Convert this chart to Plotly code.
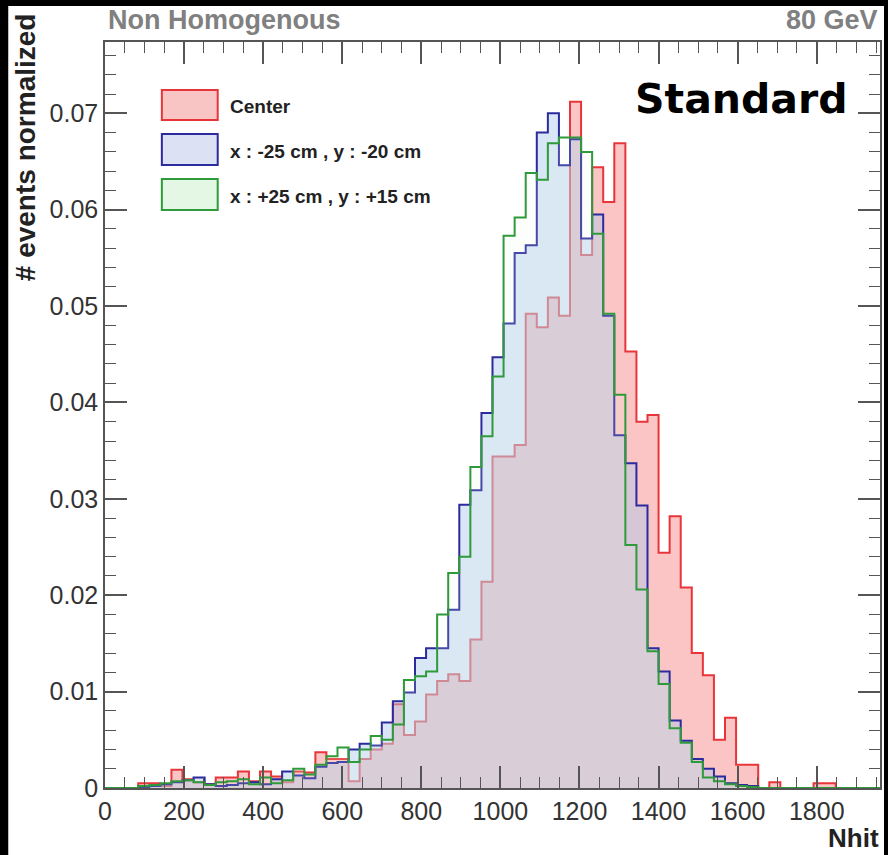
import numpy as np
import plotly.graph_objects as go

# ---------------- data (70 bins, 0 .. 1960, width 28) ----------------
NBINS = 70
XMIN, XMAX = 0, 1960

center = [0, 0, 0, 0.0005, 0.0005, 0.0002, 0.0019, 0.0009, 0.0006, 0.0004,
          0.0011, 0.0011, 0.0017, 0.0007, 0.0017, 0.0012, 0.0006, 0.0017, 0.0016, 0.0037,
          0.0030, 0.0030, 0.0007, 0.0030, 0.0040, 0.0046, 0.0087, 0.0055, 0.0069, 0.0097,
          0.0111, 0.0118, 0.0111, 0.0154, 0.0214, 0.0344, 0.0344, 0.0356, 0.0492, 0.0478,
          0.0509, 0.0490, 0.0712, 0.0553, 0.0644, 0.0608, 0.0669, 0.0453, 0.0380, 0.0387,
          0.0244, 0.0282, 0.0208, 0.0140, 0.0117, 0.0050, 0.0073, 0.0024, 0.0024, 0,
          0.0006, 0, 0, 0, 0.0005, 0.0005, 0, 0, 0, 0]

minus = [0, 0, 0, 0.0001, 0.0002, 0.0004, 0.0006, 0.0008, 0.0011, 0.0004,
         0.0002, 0.0003, 0.0005, 0.0006, 0.0004, 0.0009, 0.0017, 0.0013, 0.0010, 0.0022,
         0.0026, 0.0027, 0.0040, 0.0046, 0.0044, 0.0068, 0.0090, 0.0099, 0.0135, 0.0145,
         0.0145, 0.0185, 0.0294, 0.0309, 0.0389, 0.0447, 0.0482, 0.0555, 0.0563, 0.0680,
         0.0700, 0.0646, 0.0673, 0.0570, 0.0595, 0.0490, 0.0366, 0.0337, 0.0293, 0.0145,
         0.0121, 0.0070, 0.0049, 0.0030, 0.0020, 0.0012, 0.0005, 0.0003, 0.0002, 0,
         0, 0, 0, 0, 0, 0, 0, 0, 0, 0]

plus = [0, 0, 0, 0.0002, 0.0003, 0.0005, 0.0007, 0.0008, 0.0006, 0.0003,
        0.0006, 0.0007, 0.0009, 0.0004, 0.0011, 0.0005, 0.0008, 0.0020, 0.0014, 0.0024,
        0.0033, 0.0042, 0.0027, 0.0040, 0.0054, 0.0050, 0.0066, 0.0112, 0.0116, 0.0121,
        0.0180, 0.0223, 0.0240, 0.0333, 0.0365, 0.0427, 0.0573, 0.0592, 0.0638, 0.0631,
        0.0669, 0.0675, 0.0675, 0.0660, 0.0575, 0.0492, 0.0408, 0.0252, 0.0206, 0.0142,
        0.0108, 0.0062, 0.0047, 0.0027, 0.0011, 0.0007, 0.0004, 0.0002, 0.0001, 0,
        0, 0, 0, 0, 0, 0, 0, 0, 0, 0]

labels = ["Center", "x : -25 cm , y : -20 cm", "x : +25 cm , y : +15 cm"]
x_ticks = [0, 200, 400, 600, 800, 1000, 1200, 1400, 1600, 1800]
y_ticks = [0, 0.01, 0.02, 0.03, 0.04, 0.05, 0.06, 0.07]
y_ticktext = ["0", "0.01", "0.02", "0.03", "0.04", "0.05", "0.06", "0.07"]

edges = np.linspace(XMIN, XMAX, NBINS + 1)

line_cols = ["#e8353a", "#2b2b9e", "#2f9a3a"]
fill_cols = ["rgba(247,140,140,0.50)", "rgba(170,200,235,0.45)", "rgba(225,245,225,0.15)"]

fig = go.Figure()
for vals, lc, fc, name in zip([center, minus, plus], line_cols, fill_cols, labels):
    yv = list(vals) + [vals[-1]]
    fig.add_trace(go.Scatter(
        x=edges, y=yv, mode="lines", line=dict(color=lc, width=2, shape="hv"),
        fill="tozeroy", fillcolor=fc, name=name, showlegend=False, hoverinfo="skip"))

# ---------------- layout ----------------
W_FIG, H_FIG = 888, 855
L, T, R, B = 105, 42, 6, 67
PW, PH = W_FIG - L - R, H_FIG - T - B


def pxx(x):
    return (x - L) / PW


def pxy(y):
    return (T + PH - y) / PH


FONT = "Liberation Sans, Arial, sans-serif"

axis_common = dict(
    showline=True, linecolor="#555555", linewidth=1.5, mirror="ticks",
    ticks="inside", tickcolor="#555555", tickwidth=1.5, ticklen=22,
    showgrid=False, zeroline=False,
    tickfont=dict(family=FONT, size=25, color="#333333"),
)

fig.update_xaxes(range=[XMIN, XMAX], tickvals=x_ticks,
                 minor=dict(dtick=50, ticklen=11, tickcolor="#555555", ticks="inside", tickwidth=1.2),
                 **axis_common)
fig.update_yaxes(range=[0, 0.0774], tickvals=y_ticks, ticktext=y_ticktext,
                 minor=dict(dtick=0.002, ticklen=11, tickcolor="#555555", ticks="inside", tickwidth=1.2),
                 **axis_common)

shapes = [dict(type="rect", xref="paper", yref="paper", layer="below",
               x0=pxx(8), x1=pxx(886), y0=pxy(855), y1=pxy(6),
               fillcolor="white", line=dict(width=0))]

sw_fill = ["#f9c4c4", "#dde1f4", "#e4f6e4"]
sw_y = [(90, 120), (134, 165), (179, 210)]
for (y0, y1), lc, fc in zip(sw_y, line_cols, sw_fill):
    shapes.append(dict(type="rect", xref="paper", yref="paper",
                       x0=pxx(162), x1=pxx(218), y0=pxy(y1), y1=pxy(y0),
                       fillcolor=fc, line=dict(color=lc, width=2)))

annotations = []
for (y0, y1), lab in zip(sw_y, labels):
    annotations.append(dict(text="<b>" + lab + "</b>", xref="paper", yref="paper",
                            x=pxx(228), y=pxy((y0 + y1) / 2 + 2), xanchor="left", yanchor="middle",
                            showarrow=False,
                            font=dict(family=FONT, size=19, color="#222222")))

annotations += [
    dict(text="<b>Non Homogenous</b>", xref="paper", yref="paper", x=pxx(106), y=pxy(20),
         xanchor="left", yanchor="middle", showarrow=False,
         font=dict(family=FONT, size=27, color="#808080")),
    dict(text="<b>80 GeV</b>", xref="paper", yref="paper", x=pxx(882), y=pxy(20),
         xanchor="right", yanchor="middle", showarrow=False,
         font=dict(family=FONT, size=27, color="#808080")),
    dict(text="<b># events normalized</b>", xref="paper", yref="paper", x=pxx(25), y=pxy(11),
         xanchor="center", yanchor="top", textangle=-90, showarrow=False,
         font=dict(family=FONT, size=28, color="#222222")),
    dict(text="<b>Nhit</b>", xref="paper", yref="paper", x=pxx(883), y=pxy(838),
         xanchor="right", yanchor="middle", showarrow=False,
         font=dict(family=FONT, size=26, color="#222222")),
    dict(text="<b>Standard</b>", xref="paper", yref="paper", x=pxx(743), y=pxy(99),
         xanchor="center", yanchor="middle", showarrow=False,
         font=dict(family="Comic Sans MS, DejaVu Sans, sans-serif", size=41, color="black")),
]

fig.update_layout(
    width=W_FIG, height=H_FIG, autosize=False,
    margin=dict(l=L, r=R, t=T, b=B, pad=0),
    paper_bgcolor="black", plot_bgcolor="white",
    shapes=shapes, annotations=annotations, showlegend=False,
)

fig.write_html("out.html")
